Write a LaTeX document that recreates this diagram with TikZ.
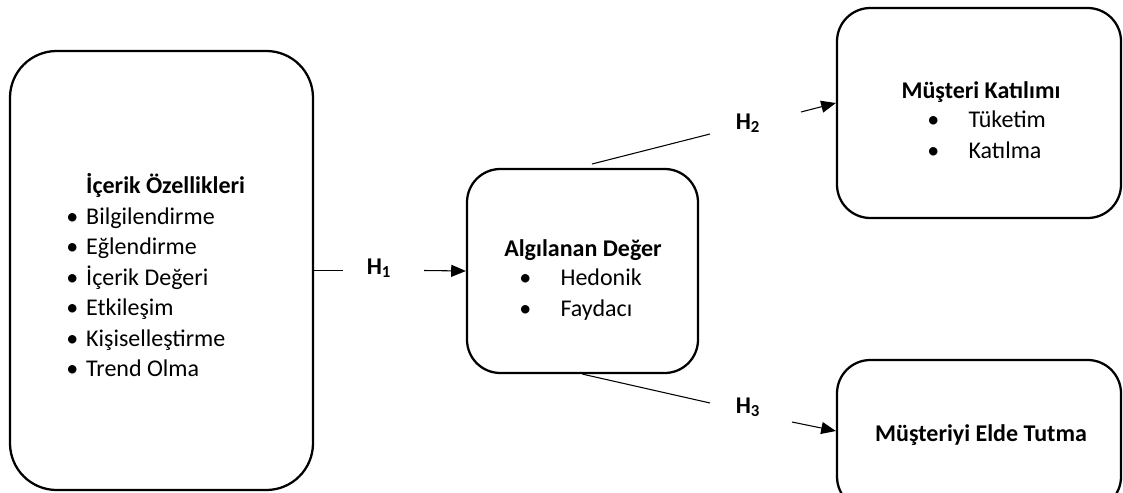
\documentclass[tikz,border=0pt]{standalone}
\usepackage{fontspec}
\setmainfont{Carlito}
\usetikzlibrary{arrows.meta}
\tikzset{
  box/.style={draw, line width=1.7pt, rounded corners=#1, inner sep=0pt},
  box/.default=25pt,
  txt/.style={inner sep=0pt, font=\fontsize{18}{22.9}\selectfont},
  link/.style={line width=0.8pt},
}

\begin{document}
\begin{tikzpicture}[x=0.75pt, y=-0.75pt, >={Triangle[length=11pt,width=9pt]}]

  \newcommand\PU{0.75pt}

  \useasboundingbox (0,0) rectangle (1123,492);
  \clip (0,0) rectangle (1123,492);

  \node[box=35pt, minimum width=303*\PU, minimum height=439*\PU] (A) at (161.5,270.5) {};
  \node[box, minimum width=231*\PU, minimum height=204*\PU] (B) at (582.5,271) {};
  \node[box, minimum width=284*\PU, minimum height=210*\PU] (C) at (979,113) {};
  \node[box, minimum width=284*\PU, minimum height=150*\PU] (D) at (979,435) {};

  \node[txt, anchor=west] (At) at (66,279) {\begin{tabular}{@{}c@{\hspace{6pt}}l@{}}
      & \textbf{İçerik Özellikleri}\\
      \textbullet & Bilgilendirme\\
      \textbullet & Eğlendirme\\
      \textbullet & İçerik Değeri\\
      \textbullet & Etkileşim\\
      \textbullet & Kişiselleştirme\\
      \textbullet & Trend Olma
    \end{tabular}};

  \node[txt] (Bt) at (583,250) {\textbf{Algılanan Değer}};
  \node[txt, anchor=west] (Bl) at (519,295) {\begin{tabular}{@{}c@{\hspace{22pt}}l@{}}
      \textbullet & Hedonik\\
      \textbullet & Faydacı
    \end{tabular}};

  \node[txt] (Ct) at (981,92) {\textbf{Müşteri Katılımı}};
  \node[txt, anchor=west] (Cl) at (927,137) {\begin{tabular}{@{}c@{\hspace{22pt}}l@{}}
      \textbullet & Tüketim\\
      \textbullet & Katılma
    \end{tabular}};

  \node[txt] (Dt) at (981,435) {\textbf{Müşteriyi Elde Tutma}};

  \node[txt] (h1) at (379,268) {\textbf{H\textsubscript{1}}};
  \node[txt] (h2) at (748,123) {\textbf{H\textsubscript{2}}};
  \node[txt] (h3) at (748,407) {\textbf{H\textsubscript{3}}};

  \coordinate (h1a) at (343,270.5);
  \coordinate (h1b) at (424,270.5);
  \draw[link] (A.east) -- (h1a); %% A->H1
  \draw[link,->] (h1b) -- (B.west); %% H1->B

  \coordinate (h2a) at (592,164);
  \coordinate (h2b) at (710,134);
  \coordinate (h2c) at (801,112);
  \draw[link] (h2a) -- (h2b); %% B->H2
  \draw[link,->] (h2c) -- ([yshift=7.5pt]C.west); %% H2->C

  \coordinate (h3b) at (710,403);
  \coordinate (h3c) at (792,422);
  \draw[link] (B.south) -- (h3b); %% B->H3
  \draw[link,->] (h3c) -- ([yshift=3pt]D.west); %% H3->D
\end{tikzpicture}
\end{document}
